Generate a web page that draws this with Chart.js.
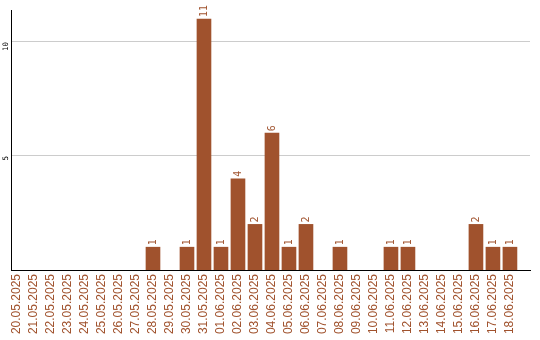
<!DOCTYPE html>
<html><head><meta charset="utf-8">
<script src="https://cdn.jsdelivr.net/npm/chart.js@4/dist/chart.umd.min.js"></script>
<style>html,body{margin:0;padding:0;background:#fff}#w{width:540px;height:340px}</style>
</head><body><div id="w"><canvas id="c" width="540" height="340"></canvas></div>
<script>
const categories = ["20.05.2025","21.05.2025","22.05.2025","23.05.2025","24.05.2025","25.05.2025","26.05.2025","27.05.2025","28.05.2025","29.05.2025","30.05.2025","31.05.2025","01.06.2025","02.06.2025","03.06.2025","04.06.2025","05.06.2025","06.06.2025","07.06.2025","08.06.2025","09.06.2025","10.06.2025","11.06.2025","12.06.2025","13.06.2025","14.06.2025","15.06.2025","16.06.2025","17.06.2025","18.06.2025"];
const counts = [0,0,0,0,0,0,0,0,1,0,1,11,1,4,2,6,1,2,0,1,0,0,1,1,0,0,0,2,1,1];
const yTicks = [5,10];

const barColor = '#a0522d';
const valueLabels = {
  id:'valueLabels',
  afterDatasetsDraw(chart){
    const ctx = chart.ctx;
    const meta = chart.getDatasetMeta(0);
    ctx.save();
    ctx.fillStyle = barColor;
    ctx.font = '10px "DejaVu Sans Mono"';
    meta.data.forEach((el,i)=>{
      const v = counts[i];
      if(!v) return;
      ctx.save();
      ctx.translate(el.x, el.y - 2);
      ctx.rotate(-Math.PI/2);
      ctx.textAlign='left'; ctx.textBaseline='middle';
      ctx.fillText(String(v),0,0);
      ctx.restore();
    });
    ctx.restore();
  }
};

new Chart(document.getElementById('c'),{
  type:'bar',
  data:{datasets:[{data:counts.map((v,i)=>({x:i,y:v||null})),backgroundColor:barColor,barThickness:14,borderWidth:0}]},
  options:{
    responsive:false,animation:false,
    layout:{padding:{top:10,right:10,left:0,bottom:0}},
    plugins:{legend:{display:false},tooltip:{enabled:false}},
    scales:{
      x:{type:'linear',min:-0.353,max:30.18,offset:false,
        grid:{display:false,offset:false,drawTicks:false},
        border:{display:true,color:'#000',width:1},
        ticks:{stepSize:1,includeBounds:false,autoSkip:false,minRotation:90,maxRotation:90,
          color:barColor,font:{family:'"Liberation Sans"',size:12},padding:4,
          callback:(v)=>Number.isInteger(v)?categories[v]:''},
        afterFit(s){s.height=70;s.paddingLeft=0;s.paddingRight=0;}
      },
      y:{min:0,max:11.4,
        afterBuildTicks(s){s.ticks=yTicks.map(v=>({value:v}));},
        grid:{color:'#cccccc',drawTicks:false},
        border:{display:true,color:'#000',width:1},
        ticks:{minRotation:90,maxRotation:90,color:'#000',font:{family:'"DejaVu Sans Mono"',size:7.5},padding:5},
        afterFit(s){s.width=11;s.paddingTop=0;s.paddingBottom=0;}
      }
    }
  },
  plugins:[valueLabels]
});
</script></body></html>
